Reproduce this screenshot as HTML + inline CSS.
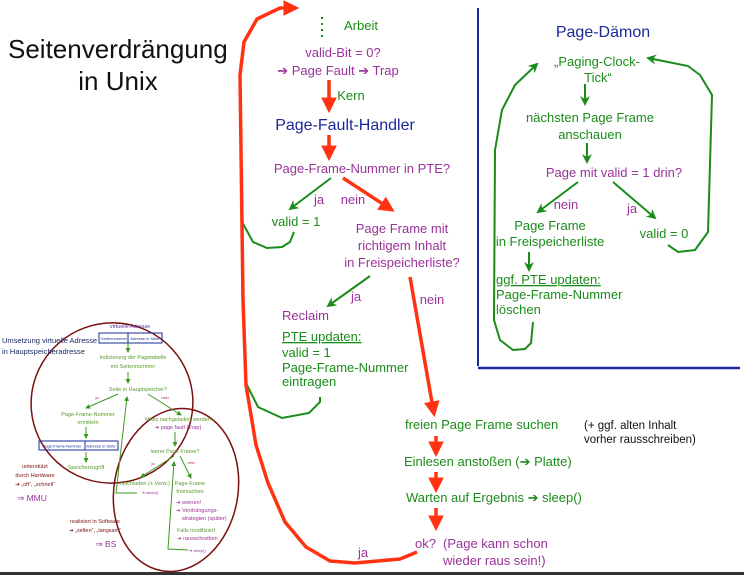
<!DOCTYPE html>
<html><head><meta charset="utf-8"><style>
html,body{margin:0;padding:0;background:#fff;}
svg{display:block;}
text{font-family:"Liberation Sans",sans-serif;}
</style></head><body>
<svg width="744" height="575" viewBox="0 0 744 575" xmlns="http://www.w3.org/2000/svg">
<defs>
<marker id="rA" viewBox="0 0 10 10" refX="8" refY="5" markerWidth="4.5" markerHeight="4.5" orient="auto"><path d="M0,0 L10,5 L0,10 z" fill="#ff3311"/></marker>
<marker id="gA" viewBox="0 0 10 10" refX="8" refY="5" markerWidth="5" markerHeight="5" orient="auto"><path d="M0,0 L10,5 L0,10 L3,5 z" fill="#1a8c1a"/></marker>
<marker id="sA" viewBox="0 0 10 10" refX="8" refY="5" markerWidth="5" markerHeight="5" orient="auto"><path d="M0,0 L10,5 L0,10 z" fill="#3a9a20"/></marker>
</defs>

<text x="8" y="58" font-size="26" fill="#111">Seitenverdrängung</text>
<text x="118" y="90" font-size="26" fill="#111" text-anchor="middle">in Unix</text>

<line x1="478" y1="8" x2="478" y2="366" stroke="#1a2a99" stroke-width="2"/>
<line x1="478" y1="368" x2="740" y2="368" stroke="#1a2a99" stroke-width="2.5"/>
<rect x="0" y="572" width="744" height="3" fill="#333"/>

<g font-size="13" text-anchor="middle">
<text x="603" y="37" font-size="16" fill="#1a2a99">Page-Dämon</text>
<text x="597" y="66" fill="#1a8c1a">„Paging-Clock-</text>
<text x="598" y="82" fill="#1a8c1a">Tick“</text>
<text x="590" y="122" fill="#1a8c1a">nächsten Page Frame</text>
<text x="590" y="139" fill="#1a8c1a">anschauen</text>
<text x="614" y="177" fill="#993399">Page mit valid = 1 drin?</text>
<text x="566" y="209" fill="#993399">nein</text>
<text x="632" y="213" fill="#993399">ja</text>
<text x="550" y="230" fill="#1a8c1a">Page Frame</text>
<text x="550" y="246" fill="#1a8c1a">in Freispeicherliste</text>
<text x="664" y="238" fill="#1a8c1a">valid = 0</text>
</g>
<g font-size="13" fill="#1a8c1a">
<text x="496" y="284" text-decoration="underline">ggf. PTE updaten:</text>
<text x="496" y="299">Page-Frame-Nummer</text>
<text x="496" y="314">löschen</text>
</g>
<g stroke="#1a8c1a" stroke-width="2" fill="none">
<line x1="585" y1="84" x2="585" y2="104" marker-end="url(#gA)"/>
<line x1="587" y1="143" x2="587" y2="162" marker-end="url(#gA)"/>
<line x1="578" y1="182" x2="538" y2="212" marker-end="url(#gA)"/>
<line x1="613" y1="182" x2="655" y2="218" marker-end="url(#gA)"/>
<line x1="529" y1="252" x2="529" y2="270" marker-end="url(#gA)"/>
<path d="M668,245 L678,252 L695,250 L708,232 L712,95 L700,75 L688,66 L648,58" marker-end="url(#gA)"/>
<path d="M533,322 L531,343 L525,349 L513,350 L500,340 L494,320 L495,150 L502,110 L515,85 L537,64" marker-end="url(#gA)"/>
</g>

<line x1="322" y1="17" x2="322" y2="40" stroke="#1a8c1a" stroke-width="2" stroke-dasharray="2,4"/>
<g font-size="13" text-anchor="middle">
<text x="361" y="30" fill="#1a8c1a">Arbeit</text>
<text x="343" y="57" fill="#993399">valid-Bit = 0?</text>
<text x="338" y="75" fill="#993399">➔ Page Fault ➔ Trap</text>
<text x="351" y="100" fill="#1a8c1a">Kern</text>
<text x="345" y="130" font-size="16" fill="#1a2a99">Page-Fault-Handler</text>
<text x="362" y="173" fill="#993399">Page-Frame-Nummer in PTE?</text>
<text x="319" y="204" fill="#993399">ja</text>
<text x="353" y="204" fill="#993399">nein</text>
<text x="296" y="226" fill="#1a8c1a">valid = 1</text>
<text x="402" y="233" fill="#993399">Page Frame mit</text>
<text x="402" y="250" fill="#993399">richtigem Inhalt</text>
<text x="402" y="267" fill="#993399">in Freispeicherliste?</text>
<text x="356" y="301" fill="#993399">ja</text>
<text x="432" y="304" fill="#993399">nein</text>
</g>
<g font-size="13" fill="#1a8c1a">
<text x="282" y="320" fill="#993399">Reclaim</text>
<text x="282" y="341" text-decoration="underline">PTE updaten:</text>
<text x="282" y="357">valid = 1</text>
<text x="282" y="372">Page-Frame-Nummer</text>
<text x="282" y="386">eintragen</text>
<text x="405" y="429">freien Page Frame suchen</text>
<text x="404" y="466">Einlesen anstoßen (➔ Platte)</text>
<text x="406" y="502">Warten auf Ergebnis ➔ sleep()</text>
<text x="415" y="548" fill="#993399">ok?</text>
<text x="443" y="548" fill="#993399">(Page kann schon</text>
<text x="443" y="565" fill="#993399">wieder raus sein!)</text>
<text x="358" y="557" fill="#993399">ja</text>
</g>
<text x="584" y="429" font-size="11.5" fill="#111">(+ ggf. alten Inhalt</text>
<text x="584" y="443" font-size="11.5" fill="#111">vorher rausschreiben)</text>

<g stroke="#1a8c1a" stroke-width="2" fill="none">
<line x1="331" y1="178" x2="290" y2="209" marker-end="url(#gA)"/>
<line x1="370" y1="276" x2="328" y2="306" marker-end="url(#gA)"/>
<path d="M294,232 L290,242 L282,247 L267,248 L253,242 L241,220"/>
<path d="M246,383 L258,407 L282,418 L309,413 L320,402 L320,397"/>
</g>
<g stroke="#ff3311" stroke-width="3.5" fill="none" stroke-linejoin="round">
<line x1="329" y1="80" x2="329" y2="110" marker-end="url(#rA)"/>
<line x1="329" y1="135" x2="329" y2="158" marker-end="url(#rA)"/>
<line x1="343" y1="178" x2="392" y2="210" marker-end="url(#rA)"/>
<line x1="410" y1="277" x2="434" y2="414" marker-end="url(#rA)"/>
<line x1="436" y1="436" x2="436" y2="454" marker-end="url(#rA)"/>
<line x1="436" y1="472" x2="436" y2="490" marker-end="url(#rA)"/>
<line x1="436" y1="508" x2="436" y2="528" marker-end="url(#rA)"/>
<path d="M417,552 L400,559 L355,563 L330,561 L306,547 L285,522 L268,483 L256,445 L246,385 L243,300 L240,75 L244,42 L257,19 L280,8 L296,8" marker-end="url(#rA)"/>
</g>

<g fill="none" stroke="#7a1010" stroke-width="1.5">
<ellipse cx="112" cy="403" rx="81" ry="80" transform="rotate(-20 112 403)"/>
<ellipse cx="176" cy="490" rx="62" ry="82" transform="rotate(10 176 490)"/>
</g>
<g font-size="7.5" fill="#1a2a66">
<text x="2" y="343">Umsetzung virtuelle Adresse</text>
<text x="2" y="354">in Hauptspeicheradresse</text>
</g>
<g font-size="5.5" text-anchor="middle">
<text x="130" y="328" fill="#5a3399">virtuelle Adresse</text>
<rect x="99" y="333" width="63" height="10" fill="none" stroke="#1a2a99" stroke-width="1"/>
<line x1="128" y1="333" x2="128" y2="343" stroke="#1a2a99"/>
<text x="114" y="340" font-size="4" fill="#1a2a99">Seitennummer</text>
<text x="145" y="340" font-size="4" fill="#1a2a99">Adresse in Seite</text>
<text x="133" y="359" fill="#5a9a30">Indizierung der Pagetabelle</text>
<text x="133" y="368" fill="#5a9a30">mit Seitennummer</text>
<text x="138" y="391" fill="#5a9a30">Seite in Hauptspeicher?</text>
<text x="97" y="399" font-size="4" fill="#b03030">ja</text>
<text x="165" y="399" font-size="4" fill="#b03030">nein</text>
<text x="88" y="416" fill="#5a9a30">Page-Frame-Nummer</text>
<text x="88" y="424" fill="#5a9a30">ermitteln</text>
<rect x="39" y="441" width="79" height="9" fill="none" stroke="#1a2a99" stroke-width="1"/>
<line x1="85" y1="441" x2="85" y2="450" stroke="#1a2a99"/>
<text x="62" y="447.5" font-size="4" fill="#1a2a99">Page-Frame-Nummer</text>
<text x="101" y="447.5" font-size="4" fill="#1a2a99">Adresse in Seite</text>
<text x="86" y="469" fill="#5a9a30">Speicherzugriff</text>
<text x="178" y="421" fill="#5a9a30">Muss nachgeladen werden</text>
<text x="178" y="429" fill="#993399">➔ page fault (Trap)</text>
<text x="175" y="453" fill="#5a9a30">leerer Page Frame?</text>
<text x="153" y="465" font-size="4" fill="#b03030">ja</text>
<text x="191" y="464" font-size="4" fill="#b03030">nein</text>
<text x="145" y="485" fill="#5a9a30">Nachladen (+ Verw.)</text>
<text x="150" y="494" font-size="4" fill="#993399">➔ sleep()</text>
<text x="190" y="485" fill="#5a9a30">Page-Frame</text>
<text x="190" y="493" fill="#5a9a30">freimachen</text>
<text x="35" y="468" fill="#7a1010">unterstützt</text>
<text x="35" y="477" fill="#7a1010">durch Hardware</text>
<text x="35" y="486" fill="#7a1010">➔ „oft“, „schnell“</text>
<text x="32" y="501" font-size="8.5" fill="#993399">⇒ MMU</text>
<text x="95" y="523" fill="#7a1010">realisiert in Software</text>
<text x="95" y="532" fill="#7a1010">➔ „selten“, „langsam“</text>
<text x="106" y="547" font-size="8.5" fill="#993399">⇒ BS</text>
</g>
<g font-size="5.5" fill="#993399">
<text x="176" y="504">➔ weinen!</text>
<text x="176" y="512">➔ Verdrängungs-</text>
<text x="182" y="520">strategien (später)</text>
<text x="177" y="532" fill="#5a9a30">Falls modifiziert</text>
<text x="177" y="540">➔ rausschreiben</text>
<text x="189" y="552" font-size="4">➔ sleep()</text>
</g>
<g stroke="#3a9a20" stroke-width="1" fill="none">
<line x1="128" y1="343" x2="128" y2="352" marker-end="url(#sA)"/>
<line x1="128" y1="372" x2="128" y2="383" marker-end="url(#sA)"/>
<line x1="118" y1="394" x2="86" y2="408" marker-end="url(#sA)"/>
<line x1="148" y1="394" x2="181" y2="415" marker-end="url(#sA)"/>
<line x1="86" y1="427" x2="86" y2="438" marker-end="url(#sA)"/>
<line x1="86" y1="452" x2="86" y2="462" marker-end="url(#sA)"/>
<line x1="175" y1="432" x2="175" y2="446" marker-end="url(#sA)"/>
<line x1="174" y1="456" x2="141" y2="477" marker-end="url(#sA)"/>
<line x1="180" y1="456" x2="191" y2="478" marker-end="url(#sA)"/>
<path d="M137,493 L116,493 L127,397" marker-end="url(#sA)"/>
<path d="M188,550 L168,549 L174,462" marker-end="url(#sA)"/>
</g>
</svg>
</body></html>
